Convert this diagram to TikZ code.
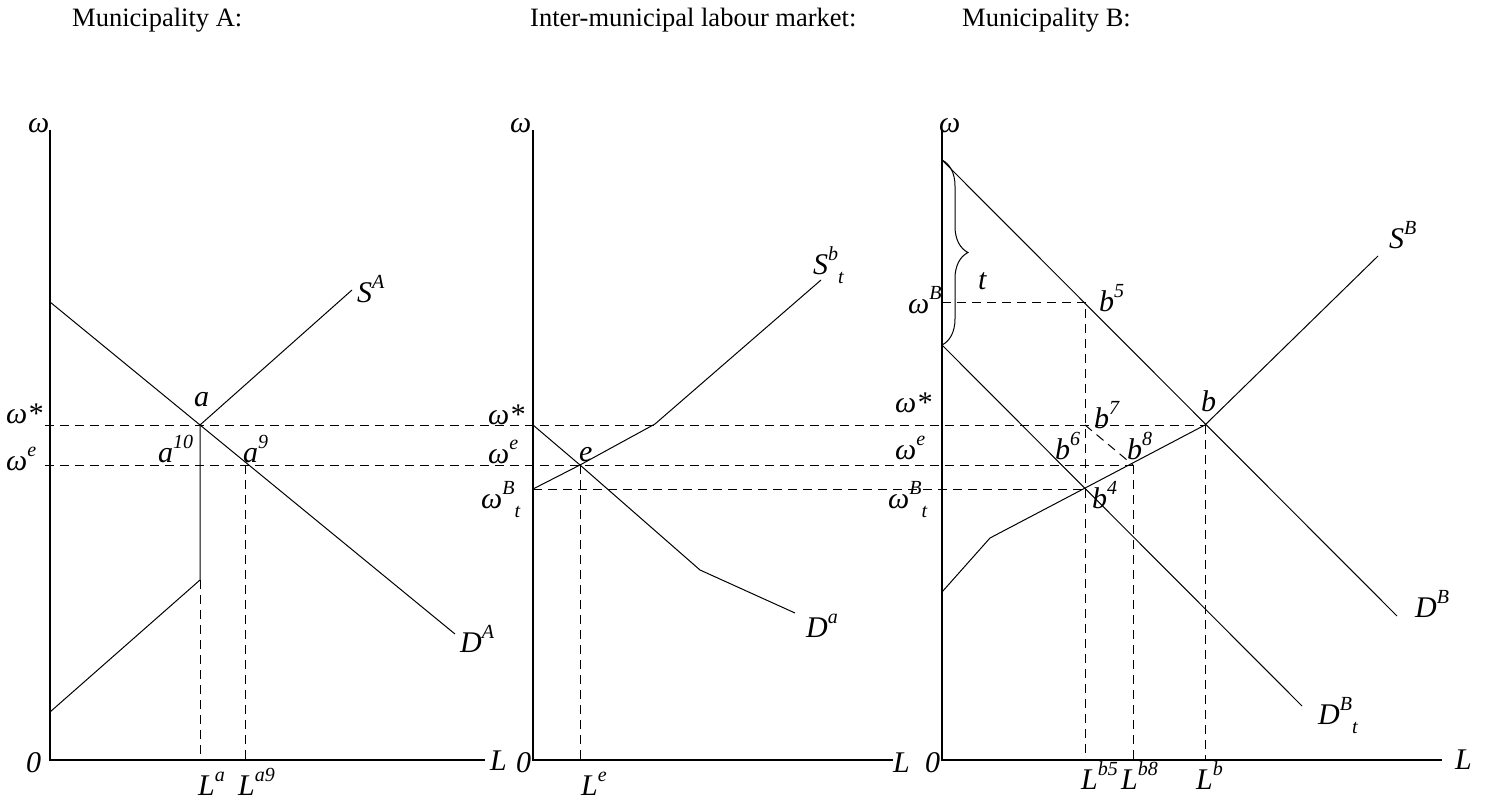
\documentclass[tikz,border=0pt]{standalone}
\usepackage{fontspec}
\setmainfont{Liberation Serif}
\usetikzlibrary{decorations.pathreplacing}
\newcommand\upx[1]{\raisebox{0.45em}{\fontsize{20}{20}\selectfont #1}}
\newcommand\dnx[1]{\raisebox{-0.3em}{\fontsize{20}{20}\selectfont #1}}
\begin{document}
\begin{tikzpicture}[x=1pt,y=-1pt,
  axis/.style={line width=1.8pt},
  curve/.style={line width=1pt},
  guide/.style={line width=1pt,dash pattern=on 9pt off 6pt},
  lab/.style={font=\fontsize{30}{32}\selectfont\itshape,inner sep=0pt,anchor=base west},
  ttl/.style={font=\fontsize{26.5}{30}\selectfont,inner sep=0pt,anchor=base west}]
\useasboundingbox (0,0) rectangle (1486,803);
% titles
\node[ttl] (t1) at (72,27) {Municipality A:};
\node[ttl] (t2) at (530,27) {Inter-municipal labour market:};
\node[ttl] (t3) at (962,27) {Municipality B:};

% ---------- left panel ----------
\coordinate (LO) at (50,760); \coordinate (LY) at (50,130); \coordinate (LX) at (485,760);
\coordinate (a) at (200,425); \coordinate (a9) at (245,465);
\coordinate (DA0) at (50,302); \coordinate (DA1) at (455,634);
\coordinate (SA1) at (352,290); \coordinate (ak) at (200,580); \coordinate (SA0) at (50,712);
\coordinate (aL) at (200,760); \coordinate (a9L) at (245,760);
\coordinate (ws0) at (45,425); \coordinate (we0) at (45,465);
\draw[axis] (LY) -- (LO) -- (LX);
\draw[curve] (DA0) -- (DA1);
\draw[curve] (SA0) -- (ak) -- (a) -- (SA1);
\draw[guide] (ak) -- (aL);
\draw[guide] (a9) -- (a9L);

% ---------- middle panel ----------
\coordinate (MO) at (533,760); \coordinate (MY) at (533,130); \coordinate (MX) at (893,760);
\coordinate (e) at (580,465); \coordinate (Da0) at (533,425); \coordinate (Dak) at (700,570); \coordinate (Da1) at (795,613);
\coordinate (Sb0) at (533,489); \coordinate (Sbk) at (655,424); \coordinate (Sb1) at (821,280);
\coordinate (eL) at (580,760);
\draw[axis] (MY) -- (MO) -- (MX);
\draw[curve] (Da0) -- (e) -- (Dak) -- (Da1);
\draw[curve] (Sb0) -- (e) -- (Sbk) -- (Sb1);
\draw[guide] (e) -- (eL);

% ---------- right panel ----------
\coordinate (RO) at (942,760); \coordinate (RY) at (942,130); \coordinate (RX) at (1442,760);
\coordinate (DB0) at (942,160); \coordinate (DB1) at (1397,616);
\coordinate (DBt0) at (942,345); \coordinate (DBt1) at (1302,706);
\coordinate (SB0) at (942,592); \coordinate (SBk) at (990,538);
\coordinate (b) at (1205,425); \coordinate (SB1) at (1378,256);
\coordinate (b4) at (1085,489); \coordinate (b5) at (1085,302); \coordinate (b7) at (1085,425); \coordinate (b8) at (1133,465);
\coordinate (wB0) at (942,302);
\coordinate (b5L) at (1085,760); \coordinate (b8L) at (1133,760); \coordinate (bL) at (1205,760);
\draw[axis] (RY) -- (RO) -- (RX);
\draw[curve] (DB0) -- (DB1);
\draw[curve] (DBt0) -- (DBt1);
\draw[curve] (SB0) -- (SBk) -- (b) -- (SB1);
\draw[guide] (wB0) -- (b5) -- (b5L);
\draw[guide] (b8) -- (b8L);
\draw[guide] (b) -- (bL);
\draw[guide] (b7) -- (b8);
\draw[curve] decorate[decoration={brace,amplitude=26pt}] {(DB0) -- (DBt0)};

% long horizontal guides
\draw[guide] (ws0) -- (b);
\draw[guide] (we0) -- (b8);
\draw[guide] (Sb0) -- (b4);

% ---------- labels left ----------
\node[lab] (lw) at (28,132) {ω};
\node[lab] (l0) at (26,772) {0};
\node[lab] (lL) at (490,770) {L};
\node[lab] (lws) at (6,423) {ω*};
\node[lab] (lwe) at (6,470) {ω\upx{e}};
\node[lab] (la) at (194,406) {a};
\node[lab] (la10) at (158,462) {a\upx{10}};
\node[lab] (la9) at (243,462) {a\upx{9}};
\node[lab] (lSA) at (357,302) {S\upx{A}};
\node[lab] (lDA) at (460,652) {D\upx{A}};
\node[lab] (lLa) at (198,795) {L\upx{a}};
\node[lab] (lLa9) at (238,795) {L\upx{a9}};

% ---------- labels middle ----------
\node[lab] (mw) at (510,132) {ω};
\node[lab] (m0) at (516,772) {0};
\node[lab] (mL) at (893,772) {L};
\node[lab] (mws) at (488,424) {ω*};
\node[lab] (mwe) at (488,463) {ω\upx{e}};
\node[lab] (mwb) at (481,508) {ω\upx{B}\dnx{t}};
\node[lab] (me) at (579,461) {e};
\node[lab] (mLe) at (581,795) {L\upx{e}};
\node[lab] (mSb) at (813,274) {S\upx{b}\dnx{t}};
\node[lab] (mDa) at (806,637) {D\upx{a}};

% ---------- labels right ----------
\node[lab] (rw) at (939,132) {ω};
\node[lab] (r0) at (925,772) {0};
\node[lab] (rL) at (1455,769) {L};
\node[lab] (rwB) at (908,313) {ω\upx{B}};
\node[lab] (rws) at (895,412) {ω*};
\node[lab] (rwe) at (895,459) {ω\upx{e}};
\node[lab] (rwb) at (888,508) {ω\upx{B}\dnx{t}};
\node[lab] (rt) at (978,289) {t};
\node[lab] (rb5) at (1099,311) {b\upx{5}};
\node[lab] (rb) at (1201,411) {b};
\node[lab] (rb7) at (1094,428) {b\upx{7}};
\node[lab] (rb6) at (1055,459) {b\upx{6}};
\node[lab] (rb8) at (1127,459) {b\upx{8}};
\node[lab] (rb4) at (1092,508) {b\upx{4}};
\node[lab] (rSB) at (1389,248) {S\upx{B}};
\node[lab] (rDB) at (1415,617) {D\upx{B}};
\node[lab] (rDBt) at (1318,724) {D\upx{B}\dnx{t}};
\node[lab] (rLb5) at (1081,789) {L\upx{b5}};
\node[lab] (rLb8) at (1121,789) {L\upx{b8}};
\node[lab] (rLb) at (1196,789) {L\upx{b}};
\end{tikzpicture}
\end{document}
